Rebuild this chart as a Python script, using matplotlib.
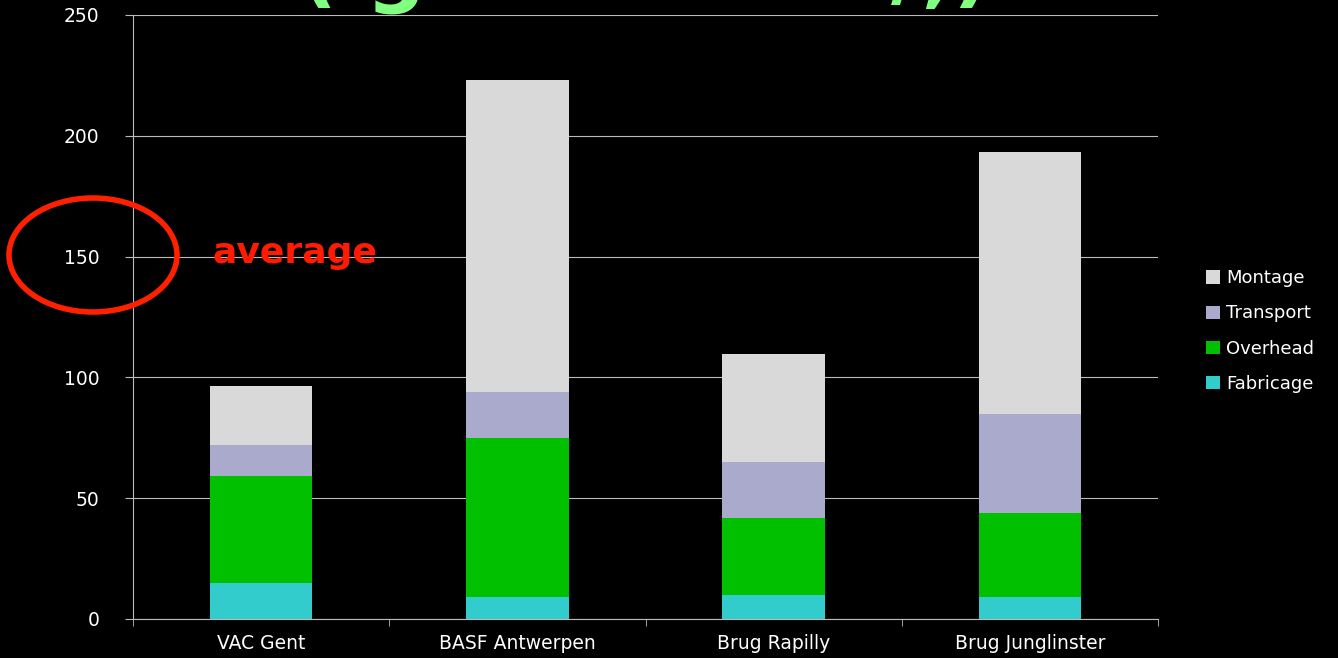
import matplotlib.pyplot as plt
from matplotlib.patches import Ellipse
import numpy as np

# data
projecten = ["VAC Gent", "BASF Antwerpen", "Brug Rapilly", "Brug Junglinster"]
fabricage = [15, 9, 10, 9]
overhead = [44, 66, 32, 35]
transport = [13, 19, 23, 41]
montage = [24.5, 129, 44.5, 108.5]

kleuren = {"Fabricage": "#33cccc", "Overhead": "#00c000",
           "Transport": "#aaaacc", "Montage": "#d9d9d9"}

fig = plt.figure(figsize=(13.38, 6.58), dpi=100, facecolor="black")
ax = fig.add_axes([133/1338, 1 - 619/658, 1025/1338, 604/658])
ax.set_facecolor("black")

x = np.arange(len(projecten))
onder = np.zeros(len(projecten))
for naam, waarden in [("Fabricage", fabricage), ("Overhead", overhead),
                      ("Transport", transport), ("Montage", montage)]:
    ax.bar(x, waarden, 0.4, bottom=onder, color=kleuren[naam], label=naam, zorder=3)
    onder += np.array(waarden)

ax.set_xlim(-0.5, 3.5)
ax.set_ylim(0, 250)
ax.set_yticks(range(0, 251, 50))
ax.yaxis.grid(True, color="#bbbbbb", linewidth=0.8, zorder=0)
ax.set_xticks(x)
ax.set_xticklabels(projecten)
ax.set_xticks(np.arange(-0.5, 3.6, 1), minor=True)
ax.tick_params(axis="x", which="major", length=0, colors="white", labelsize=13.5, pad=11)
ax.tick_params(axis="x", which="minor", length=5, color="#bbbbbb", direction="out")
ax.tick_params(axis="y", length=6, color="#bbbbbb", labelcolor="white", labelsize=13.5, pad=18)
for s in ["top", "right"]:
    ax.spines[s].set_visible(False)
for s in ["left", "bottom"]:
    ax.spines[s].set_color("#bbbbbb")

# legend (reverse order)
h, l = ax.get_legend_handles_labels()
leg = fig.legend(h[::-1], l[::-1], loc="center left", bbox_to_anchor=(1190/1338, 1 - 331/658),
                 frameon=False, labelcolor="white", fontsize=13, handlelength=0.75,
                 handleheight=0.75, handletextpad=0.35, labelspacing=0.95)

# annotation
fig.add_artist(Ellipse((93/1338, 1 - 255/658), 168/1338, 114/658, transform=fig.transFigure,
                       fill=False, edgecolor="#ff2000", linewidth=4))
fig.text(212/1338, 1 - 253/658, "average", color="#ff1a00", fontsize=26,
         fontweight="bold", va="center", ha="left")

# title, mostly above the picture as in the original slide
fig.text(645/1338, 1 + 4/658, "( gemiddeld /,)", color="#80ff80", fontsize=60,
         fontweight="bold", ha="center", va="baseline")

fig.savefig("out.png", dpi=100, facecolor="black")
